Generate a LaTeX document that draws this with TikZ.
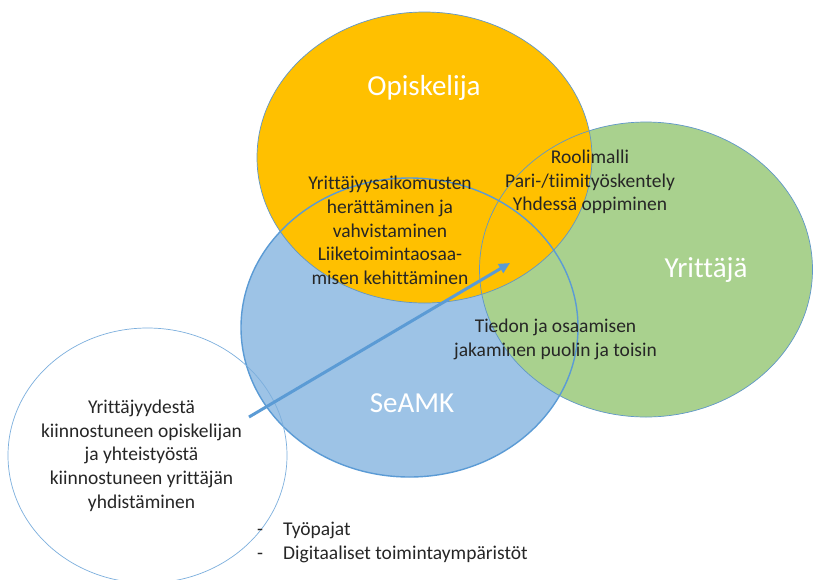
\documentclass[tikz,border=0pt]{standalone}
\usepackage{fontspec}
\setmainfont[Ligatures=NoCommon]{Carlito}
\definecolor{seamkblue}{RGB}{157,195,230}
\definecolor{opiskelijaorange}{RGB}{255,192,0}
\definecolor{yrittajagreen}{RGB}{169,209,142}
\definecolor{edgeblue}{RGB}{91,155,213}
\tikzset{every picture/.style={/utils/exec={\fontsize{19.5}{23.7}\selectfont}}}
\usetikzlibrary{arrows.meta}
\usetikzlibrary{positioning}

\tikzset{
  teksti/.style={align=center, inner sep=0pt, text=black!85},
  otsikko/.style={text=white, inner sep=0pt, font=\fontsize{29}{34}\selectfont},
  reuna/.style={draw=edgeblue!85!gray, line width=0.7pt}
}

\begin{document}
\begin{tikzpicture}[x=1pt, y=-1pt]
  \useasboundingbox (0,0) rectangle (813,579);
  \clip (0,0) rectangle (813,579);
  \fill [white] (0,0) rectangle (813,579);

  % fills: blue, green, orange
  \fill [seamkblue] (409.5,327.5) ellipse [x radius=168.5pt, y radius=149.5pt];
  \fill [yrittajagreen] (646,269.5) ellipse [x radius=166.5pt, y radius=147.5pt];
  \fill [opiskelijaorange] (424.5,157.5) ellipse [x radius=167.5pt, y radius=145.5pt];

  % outlines on top
  \draw [reuna, line width=1.4pt, draw=edgeblue] (409.5,327.5) ellipse [x radius=168.5pt, y radius=149.5pt];
  \draw [reuna] (646,269.5) ellipse [x radius=166.5pt, y radius=147.5pt];
  \draw [reuna] (424.5,157.5) ellipse [x radius=167.5pt, y radius=145.5pt];
  \draw [reuna, draw=edgeblue!80] (147.5,455.5) ellipse [x radius=139.5pt, y radius=127.5pt];

  \node [otsikko] (opiskelija) at (424,88) {Opiskelija};
  \node [otsikko] (yrittaja) at (706,270) {Yrittäjä};
  \node [otsikko] (seamk) at (412,403) {SeAMK};

  \node [teksti] (yhteinen) at (390,230.5) {Yrittäjyysaikomusten\\herättäminen ja\\vahvistaminen\\Liiketoimintaosaa-\\misen kehittäminen};
  \node [teksti] (roolimalli) at (590,182) {Roolimalli\\Pari-/tiimityöskentely\\Yhdessä oppiminen};
  \node [teksti] (tiedon) at (555.5,339.5) {Tiedon ja osaamisen\\jakaminen puolin ja toisin};
  \node [teksti] (yhdistaminen) at (141.5,455.5) {Yrittäjyydestä\\kiinnostuneen opiskelijan\\ja yhteistyöstä\\kiinnostuneen yrittäjän\\yhdistäminen};

  \node [teksti, align=left, anchor=west] (tyopajat) at (257,542.5) {\makebox[26pt][l]{-}Työpajat\\\makebox[26pt][l]{-}Digitaaliset toimintaympäristöt};

  \coordinate (alku) at (249,417);
  \coordinate (loppu) at (510,263);
  \draw [edgeblue, line width=3pt, -{Triangle[length=11pt, width=10pt]}] (alku) -- (loppu);

\end{tikzpicture}
\end{document}
